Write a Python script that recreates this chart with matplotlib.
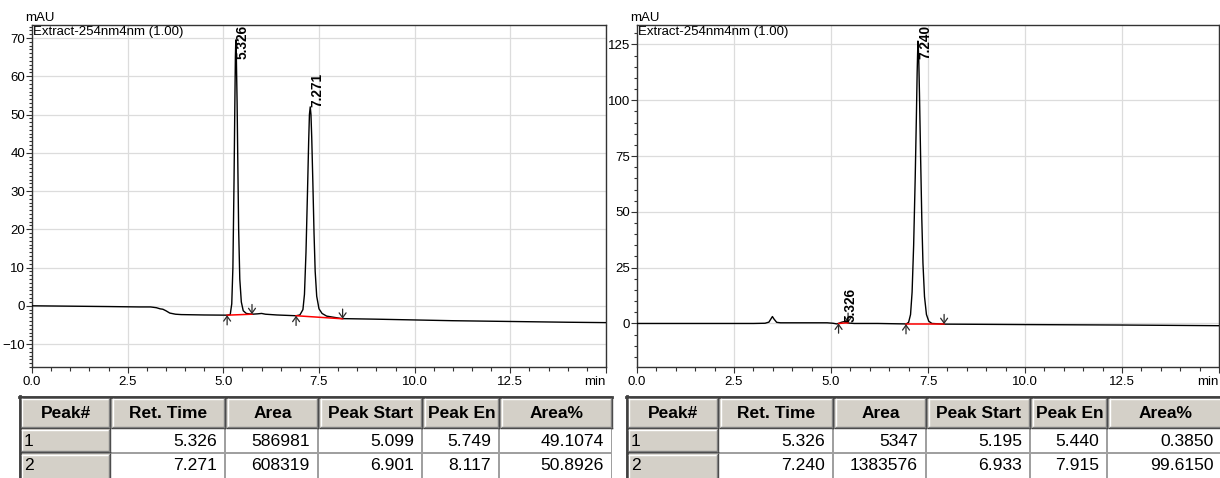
import matplotlib
matplotlib.use("Agg")
import matplotlib.pyplot as plt
from matplotlib.patches import Rectangle
from matplotlib.ticker import MultipleLocator, FixedLocator, FixedFormatter

plt.rcParams["font.family"] = ["Liberation Sans", "DejaVu Sans"]

W, H = 1220, 478

# ---------------- chromatogram traces (time in min, signal in mAU) ----------------
left_time = [0.0, 1.0, 2.0, 2.8, 3.1, 3.25, 3.35, 3.42, 3.5, 3.6, 3.75, 3.9, 4.5, 5.1,
             5.18, 5.22, 5.25, 5.28, 5.30, 5.315, 5.326, 5.34, 5.36, 5.38, 5.40, 5.43,
             5.47, 5.52, 5.60, 5.75, 5.9, 6.0, 6.1, 6.4, 6.9,
             7.00, 7.08, 7.12, 7.16, 7.20, 7.23, 7.25, 7.271, 7.29, 7.31, 7.34, 7.37,
             7.40, 7.44, 7.50, 7.58, 7.70, 8.1, 9.0, 10.0, 11.0, 12.5, 14.0, 15.0]
left_signal = [0.0, -0.1, -0.2, -0.3, -0.3, -0.5, -0.8, -0.9, -1.3, -1.9, -2.2, -2.3, -2.4, -2.45,
               -2.3, 0.5, 10.0, 33.0, 52.0, 65.0, 69.5, 65.0, 53.0, 36.0, 20.0, 7.0,
               1.0, -1.3, -2.0, -2.2, -2.1, -2.0, -2.2, -2.4, -2.6,
               -2.4, -1.0, 3.0, 14.0, 30.0, 43.0, 50.0, 52.0, 50.0, 44.0, 32.0, 19.0,
               9.0, 2.5, -0.8, -2.0, -2.7, -3.35, -3.5, -3.7, -3.9, -4.1, -4.3, -4.4]

right_time = [0.0, 1.5, 3.0, 3.3, 3.4, 3.45, 3.49, 3.53, 3.6, 3.7, 4.2, 4.9, 5.05, 5.15,
              5.195, 5.26, 5.326, 5.38, 5.44, 5.6, 6.2, 6.9,
              6.933, 7.00, 7.05, 7.09, 7.13, 7.17, 7.20, 7.22, 7.240, 7.26, 7.28, 7.31,
              7.34, 7.37, 7.41, 7.46, 7.52, 7.60, 7.915, 9.0, 10.0, 12.5, 15.0]
right_signal = [0.0, 0.0, 0.0, 0.1, 0.6, 2.0, 3.1, 2.0, 0.5, 0.3, 0.3, 0.3, 0.1, -0.2,
                0.0, 0.5, 0.8, 0.6, 0.2, 0.0, 0.0, -0.2,
                -0.3, 0.5, 4.0, 14.0, 35.0, 65.0, 92.0, 112.0, 126.5, 120.0, 103.0, 74.0,
                47.0, 27.0, 12.0, 4.0, 1.0, 0.0, -0.3, -0.4, -0.5, -0.7, -1.0]

# ---------------- integration results ----------------
table_header = ["Peak#", "Ret. Time", "Area", "Peak Start", "Peak En", "Area%"]

left_peak_no = ["1", "2"]
left_ret_time = [5.326, 7.271]
left_area = [586981, 608319]
left_peak_start = [5.099, 6.901]
left_peak_end = [5.749, 8.117]
left_area_pct = [49.1074, 50.8926]
left_start_level = [-2.45, -2.6]
left_end_level = [-2.2, -3.4]
left_apex = [69.5, 52.0]

right_peak_no = ["1", "2"]
right_ret_time = [5.326, 7.240]
right_area = [5347, 1383576]
right_peak_start = [5.195, 6.933]
right_peak_end = [5.440, 7.915]
right_area_pct = [0.3850, 99.6150]
right_start_level = [0.0, -0.3]
right_end_level = [0.3, -0.3]
right_apex = [0.8, 126.5]

channel_label = "Extract-254nm4nm (1.00)"
x_tick_values = [0.0, 2.5, 5.0, 7.5, 10.0, 12.5, 15.0]
x_tick_labels = ["0.0", "2.5", "5.0", "7.5", "10.0", "12.5", "min"]


def px_box(x0, y0, x1, y1):
    return [x0 / W, 1 - y1 / H, (x1 - x0) / W, (y1 - y0) / H]


fig = plt.figure(figsize=(W / 100, H / 100), dpi=100)
fig.patch.set_facecolor("white")

TICK_FS = 9.5
ARROW = "->,head_length=0.35,head_width=0.25"


def chromatogram(box, time, signal, ylim, ymajor, yminor, rt, apex,
                 pstart, pend, slevel, elevel, arrow_len):
    ax = fig.add_axes(px_box(*box))
    ax.set_xlim(0, 15)
    ax.set_ylim(*ylim)
    ax.grid(True, which="major", color="#dcdcdc", lw=0.9)
    ax.set_axisbelow(True)
    ax.plot(time, signal, color="black", lw=1.0, zorder=3)
    # baselines of integrated peaks with start / end markers
    for s, e, ls, le in zip(pstart, pend, slevel, elevel):
        ax.plot([s, e], [ls, le], color="#ff0000", lw=1.1, zorder=4)
        ax.annotate("", xy=(s, ls), xytext=(0, -arrow_len), textcoords="offset points",
                    arrowprops=dict(arrowstyle=ARROW, mutation_scale=10,
                                    color="#2a2a2a", lw=0.9, shrinkA=0, shrinkB=0), zorder=5)
        ax.annotate("", xy=(e, le), xytext=(0, arrow_len), textcoords="offset points",
                    arrowprops=dict(arrowstyle=ARROW, mutation_scale=10,
                                    color="#2a2a2a", lw=0.9, shrinkA=0, shrinkB=0), zorder=5)
    # retention-time labels
    yr = ylim[1] - ylim[0]
    for t, a in zip(rt, apex):
        lab_h = 34 / 342 * yr
        if a + lab_h > ylim[1]:
            ax.text(t, ylim[1], f"{t:.3f}", rotation=90, ha="left", va="top",
                    fontsize=9.8, fontweight="bold", zorder=6)
        else:
            ax.text(t, a, f"{t:.3f}", rotation=90, ha="left", va="bottom",
                    fontsize=9.8, fontweight="bold", zorder=6)
    ax.xaxis.set_major_locator(FixedLocator(x_tick_values))
    ax.xaxis.set_major_formatter(FixedFormatter(x_tick_labels))
    ax.xaxis.set_minor_locator(MultipleLocator(0.5))
    ax.yaxis.set_major_locator(MultipleLocator(ymajor))
    ax.yaxis.set_minor_locator(MultipleLocator(yminor))
    ax.tick_params(axis="both", which="major", labelsize=TICK_FS, colors="black",
                   direction="out")
    ax.tick_params(axis="both", which="both", color="#333333")
    ax.tick_params(axis="x", which="major", length=4.5, width=0.8, pad=2)
    ax.tick_params(axis="x", which="minor", length=3.0, width=0.8)
    ax.tick_params(axis="y", which="major", length=4.0, width=0.8, pad=1)
    ax.tick_params(axis="y", which="minor", length=2.2, width=0.8)
    ax.get_xticklabels()[-1].set_horizontalalignment("right")
    for sp in ax.spines.values():
        sp.set_color("#333333")
        sp.set_linewidth(1.0)
    ax.text(0.002, 0.997, channel_label, transform=ax.transAxes, ha="left", va="top",
            fontsize=TICK_FS, zorder=6)
    ax.text(-0.012, 1.004, "mAU", transform=ax.transAxes, ha="left", va="bottom",
            fontsize=TICK_FS)
    return ax


chromatogram((32, 25, 606, 367), left_time, left_signal, (-16.0, 73.4), 10, 1,
             left_ret_time, left_apex, left_peak_start, left_peak_end,
             left_start_level, left_end_level, 7)
chromatogram((637, 25, 1219, 367), right_time, right_signal, (-19.5, 133.7), 25, 5,
             right_ret_time, right_apex, right_peak_start, right_peak_end,
             right_start_level, right_end_level, 7)

# ---------------- result tables ----------------
tax = fig.add_axes([0, 0, 1, 1], zorder=-1)
tax.set_xlim(0, W)
tax.set_ylim(H, 0)
tax.axis("off")

FACE = "#d4d0c8"
SHADOW = "#808080"
DARK = "#404040"
GRIDC = "#a0a0a0"


def bevel_cell(x0, y0, x1, y1):
    tax.add_patch(Rectangle((x0, y0), x1 - x0, y1 - y0, facecolor=FACE, edgecolor="none"))
    tax.plot([x0 + 0.5, x1 - 1], [y0 + 0.5, y0 + 0.5], color="white", lw=1.0)
    tax.plot([x0 + 0.5, x0 + 0.5], [y0 + 0.5, y1 - 1], color="white", lw=1.0)
    tax.plot([x0, x1 - 0.5], [y1 - 0.5, y1 - 0.5], color=DARK, lw=1.0)
    tax.plot([x1 - 0.5, x1 - 0.5], [y0, y1], color=DARK, lw=1.0)
    tax.plot([x0 + 1, x1 - 1.5], [y1 - 1.5, y1 - 1.5], color=SHADOW, lw=1.0)
    tax.plot([x1 - 1.5, x1 - 1.5], [y0 + 1, y1 - 1], color=SHADOW, lw=1.0)


def result_table(col_edges, rows):
    top, head_bot = 396, 428
    row_edges = [(429, 452), (454, 482)]
    x_left, x_right = col_edges[0], col_edges[-1]
    tax.add_patch(Rectangle((x_left, top), x_right - x_left, H - top + 5,
                            facecolor=GRIDC, edgecolor="none"))
    tax.plot([x_left, x_right], [top + 1, top + 1], color=DARK, lw=2.0)
    tax.plot([x_left + 1, x_left + 1], [top, H + 5], color=DARK, lw=2.0)
    for i, name in enumerate(table_header):
        x0, x1 = col_edges[i] + 2, col_edges[i + 1]
        bevel_cell(x0, top + 2, x1, head_bot)
        tax.text((x0 + x1) / 2, (top + head_bot) / 2 + 1, name, ha="center", va="center",
                 fontsize=12.5, fontweight="bold", color="black")
    for r, (y0, y1) in enumerate(row_edges):
        vals = rows[r]
        ymid = y0 + 12
        bevel_cell(col_edges[0] + 2, y0, col_edges[1], y1)
        tax.text(col_edges[0] + 5, ymid, vals[0], ha="left", va="center",
                 fontsize=12.6, color="black")
        for c in range(1, 6):
            x0, x1 = col_edges[c] + 1, col_edges[c + 1]
            tax.add_patch(Rectangle((x0, y0), x1 - x0 - 1, y1 - y0,
                                    facecolor="white", edgecolor="none"))
            tax.text(x1 - 8, ymid, vals[c], ha="right", va="center",
                     fontsize=12.6, color="black")


left_rows = [[left_peak_no[i], f"{left_ret_time[i]:.3f}", f"{left_area[i]}",
              f"{left_peak_start[i]:.3f}", f"{left_peak_end[i]:.3f}",
              f"{left_area_pct[i]:.4f}"] for i in range(2)]
right_rows = [[right_peak_no[i], f"{right_ret_time[i]:.3f}", f"{right_area[i]}",
               f"{right_peak_start[i]:.3f}", f"{right_peak_end[i]:.3f}",
               f"{right_area_pct[i]:.4f}"] for i in range(2)]

result_table([19, 110, 225, 318, 422, 499, 612], left_rows)
result_table([626, 718, 833, 926, 1030, 1107, 1222], right_rows)

fig.savefig("out.png", dpi=100, facecolor="white")
